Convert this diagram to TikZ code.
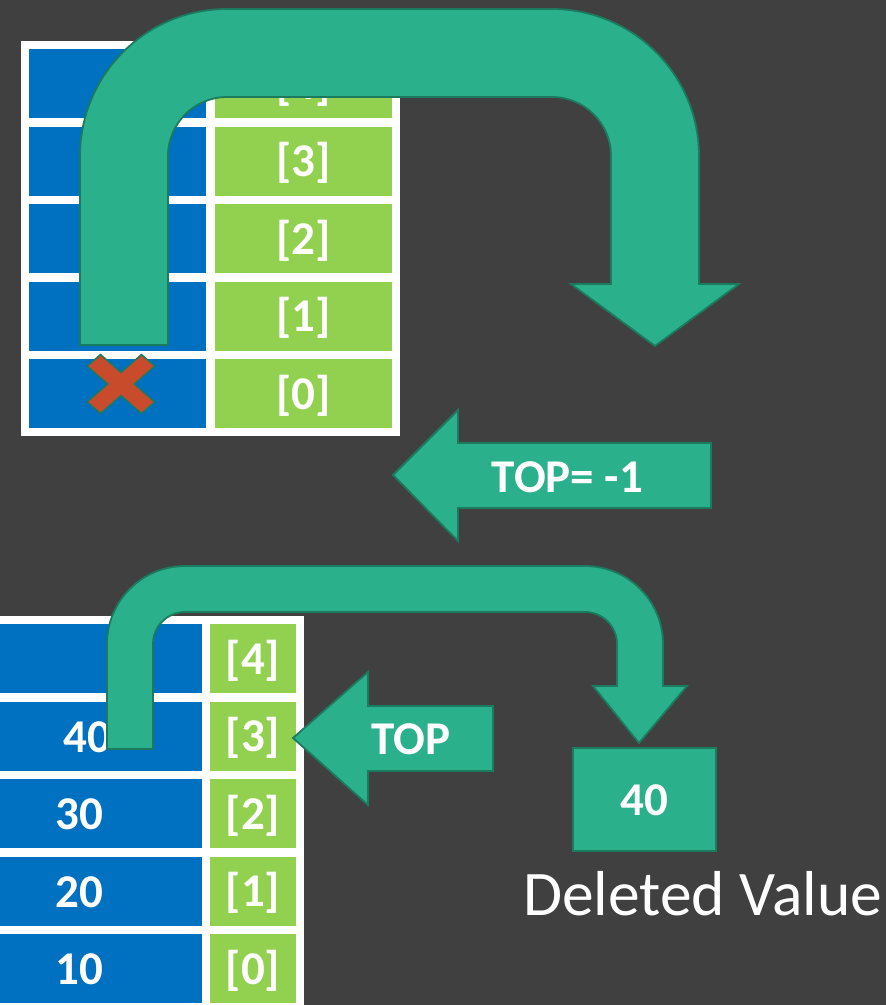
\documentclass[tikz,border=0pt]{standalone}
\usepackage{fontspec}
\setmainfont{Carlito}
\definecolor{bgdark}{RGB}{64,64,64}
\definecolor{cellblue}{RGB}{0,112,192}
\definecolor{cellgreen}{RGB}{146,208,80}
\definecolor{arrowfill}{RGB}{42,176,138}
\definecolor{arrowline}{RGB}{28,122,94}
\definecolor{crossred}{RGB}{200,76,44}
\begin{document}
\begin{tikzpicture}[x=1pt,y=-1pt,
  cell/.style={minimum height=69pt, inner sep=0pt, text height=31pt, text depth=0pt,
    text=white, font=\fontsize{47}{56}\selectfont\bfseries},
  valcell/.style={cell, fill=cellblue},
  idxcell/.style={cell, fill=cellgreen},
  blockarrow/.style={fill=arrowfill, draw=arrowline, line width=1.8pt, line join=miter},
  arrowlabel/.style={text=white, inner sep=0pt, anchor=base,
    font=\fontsize{47}{56}\selectfont\bfseries}]

% canvas
\fill[bgdark] (0,0) rectangle (886,1005);
\useasboundingbox (0,0) rectangle (886,1005);
\clip (0,0) rectangle (886,1005);

% ---------- upper stack (after the pop) ----------
\fill[white] (21,41) rectangle (400,436);
\foreach \r in {0,...,4} {
  \node[valcell, minimum width=177pt] (ua\r) at (117.5,{393.5-77.5*\r}) {};
  \node[idxcell, minimum width=177pt] (ui\r) at (303.5,{393.5-77.5*\r}) {[\r]};
}

% removed element marker
\begin{scope}[shift={(121,384)}, xscale=31.5, yscale=27.5]
  \draw[fill=crossred, draw=arrowline, line width=1.5pt, line join=miter]
    (0.42,0) -- (1.07,0.65) -- (0.65,1.07) -- (0,0.42) -- (-0.65,1.07) -- (-1.07,0.65)
    -- (-0.42,0) -- (-1.07,-0.65) -- (-0.65,-1.07) -- (0,-0.42) -- (0.65,-1.07)
    -- (1.07,-0.65) -- cycle;
\end{scope}

% large U-turn arrow leaving the stack
\draw[blockarrow]
  (80,345) -- (80,156) arc[start angle=180, end angle=270, radius=147]
  -- (552,9) arc[start angle=270, end angle=360, radius=147]
  -- (699,284) -- (739,284) -- (655,346) -- (571,284) -- (611,284)
  -- (611,156) arc[start angle=0, end angle=-90, radius=59]
  -- (227,97) arc[start angle=270, end angle=180, radius=59]
  -- (168,345) -- cycle;

% TOP = -1 pointer
\draw[blockarrow] (393,475) -- (458,410) -- (458,443) -- (711,443) -- (711,508)
  -- (458,508) -- (458,541) -- cycle;
\node[arrowlabel] (topneg) at (567.5,492) {TOP= -1};

% ---------- lower stack (before the pop) ----------
\fill[white] (-60,616) rectangle (304,1015);
\foreach \r in {0,...,4} {
  \node[valcell, minimum width=246pt] (la\r) at (79,{968.5-77.5*\r}) {};
  \node[idxcell, minimum width=86pt] (li\r) at (253,{968.5-77.5*\r}) {[\r]};
}
\node[arrowlabel] (v0) at (79,984.5) {10};
\node[arrowlabel] (v1) at (79,907) {20};
\node[arrowlabel] (v2) at (79,829.5) {30};
\node[arrowlabel] (v3) at (87,752) {40};

% U-turn arrow carrying the popped value
\draw[blockarrow]
  (107,749) -- (107,644) arc[start angle=180, end angle=270, radius=78]
  -- (585,566) arc[start angle=270, end angle=360, radius=78]
  -- (663,686) -- (687,686) -- (639,743) -- (593,686) -- (617,686)
  -- (617,644) arc[start angle=0, end angle=-90, radius=32]
  -- (185,612) arc[start angle=270, end angle=180, radius=32]
  -- (153,749) -- cycle;

% TOP pointer
\draw[blockarrow] (293,738) -- (368,672) -- (368,706) -- (493,706) -- (493,771)
  -- (368,771) -- (368,805) -- cycle;
\node[arrowlabel] (toplbl) at (411,754) {TOP};

% popped value
\node[cell, fill=arrowfill, draw=arrowline, line width=1.8pt,
  minimum width=143pt, minimum height=103pt] (deleted) at (644.5,799.5) {40};
\node[text=white, inner sep=0pt, anchor=base west,
  font=\fontsize{63.5}{76}\selectfont] (dlabel) at (523,915) {Deleted Value};
\end{tikzpicture}
\end{document}
